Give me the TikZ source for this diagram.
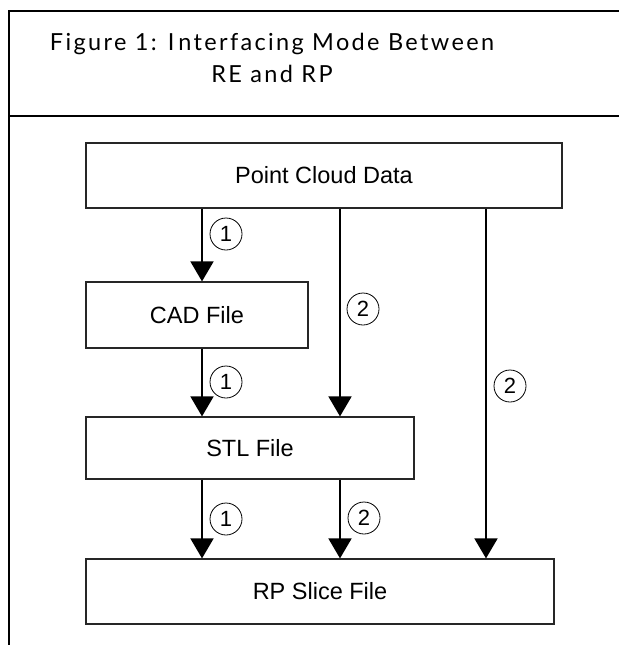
\documentclass[tikz,border=0pt]{standalone}
\usepackage{fontspec}
\setmainfont{Liberation Sans}
\newfontfamily\titlefont[LetterSpace=10]{Lato}
\usetikzlibrary{arrows.meta}
\begin{document}
\begin{tikzpicture}[x=1pt,y=-1pt,
  box/.style={draw=black!85, line width=1.2pt, fill=white, inner sep=0pt,
    font=\fontsize{23.5}{27}\selectfont},
  flow/.style={line width=1.8pt, -{Triangle[width=23pt,length=20pt]}},
  num/.style={draw, circle, line width=0.8pt, minimum size=32pt, inner sep=0pt,
    font=\fontsize{22}{24}\selectfont},
  ttl/.style={anchor=base, inner sep=0pt, font=\titlefont\fontsize{23.5}{28}\selectfont}]
\useasboundingbox (0,0) rectangle (619,645);
\fill[white] (0,0) rectangle (619,645);
% frame
\coordinate (fbl) at (9,645);
\coordinate (ftl) at (9,11);
\coordinate (ftr) at (619,11);
\coordinate (fsl) at (9,116);
\coordinate (fsr) at (619,116);
\draw[line width=1.5pt] (fbl) -- (ftl) -- (ftr);
\draw[line width=2pt] (fsl) -- (fsr);
% title
\node[ttl] (t1) at (272,50) {Figure 1: I\kern4pt nterfacing Mode Between};
\node[ttl] (t2) at (272,82) {RE and RP};
% boxes
\node[box, minimum width=476pt, minimum height=65pt] (pcd) at (324,175.5) {Point Cloud Data};
\node[box, minimum width=222pt, minimum height=66pt] (cad) at (197,315) {CAD File};
\node[box, minimum width=328pt, minimum height=62pt] (stl) at (250,448) {STL File};
\node[box, minimum width=468pt, minimum height=65pt] (rp) at (320,591.5) {RP Slice File};
% arrow columns
\coordinate (c1) at (202,0);
\coordinate (c2) at (340,0);
\coordinate (c3) at (486,0);
\draw[flow] (c1 |- pcd.south) -- (c1 |- cad.north);
\draw[flow] (c1 |- cad.south) -- (c1 |- stl.north);
\draw[flow] (c1 |- stl.south) -- (c1 |- rp.north);
\draw[flow] (c2 |- pcd.south) -- (c2 |- stl.north);
\draw[flow] (c2 |- stl.south) -- (c2 |- rp.north);
\draw[flow] (c3 |- pcd.south) -- (c3 |- rp.north);
% labels
\node[num] (l1) at (226,234) {1};
\node[num] (l2) at (226,382) {1};
\node[num] (l3) at (226,519) {1};
\node[num] (l4) at (363,309) {2};
\node[num] (l5) at (364,518) {2};
\node[num] (l6) at (510,386) {2};
\end{tikzpicture}
\end{document}
